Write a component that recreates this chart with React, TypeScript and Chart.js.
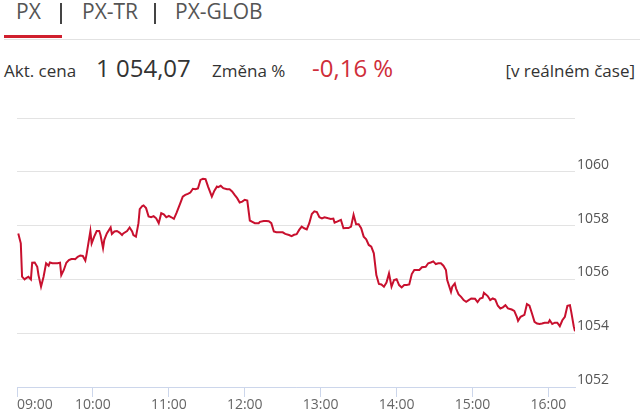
import React, { useEffect, useRef } from 'react';
import { Chart, registerables } from 'chart.js';

Chart.register(...registerables);

const FONT = '"Open Sans", "Noto Sans", sans-serif';

const times: string[] = [
  '09:01','09:03','09:04','09:06','09:07','09:09','09:11','09:12','09:14','09:16','09:17','09:19','09:21','09:23','09:25','09:26','09:28','09:30','09:32','09:34','09:35','09:37','09:39','09:41','09:43','09:45','09:46','09:48','09:50','09:52','09:54','09:55','09:58','09:59',
  '10:01','10:03','10:05','10:06','10:08','10:09','10:11','10:14','10:15','10:17','10:19','10:21','10:23','10:24','10:27','10:29','10:31','10:32','10:34','10:36','10:37','10:39','10:40','10:42','10:44','10:46','10:48','10:50','10:52','10:54','10:56','10:58',
  '11:00','11:02','11:04','11:06','11:09','11:11','11:13','11:15','11:17','11:19','11:21','11:23','11:25','11:27','11:29','11:31','11:34','11:36','11:38','11:39','11:41','11:43','11:46','11:48','11:50','11:52','11:54','11:56','11:58',
  '12:00','12:02','12:04','12:06','12:08','12:11','12:12','12:15','12:17','12:19','12:21','12:23','12:25','12:28','12:30','12:32','12:35','12:37','12:39','12:41','12:43','12:45','12:47','12:49','12:51','12:53','12:55','12:57','12:59',
  '13:01','13:03','13:06','13:08','13:10','13:11','13:13','13:16','13:18','13:20','13:22','13:24','13:26','13:28','13:30','13:32','13:34','13:36','13:38','13:40','13:42','13:44','13:46','13:48','13:50','13:52','13:54','13:56','13:58',
  '14:00','14:02','14:04','14:06','14:08','14:10','14:12','14:14','14:16','14:18','14:20','14:23','14:25','14:27','14:29','14:31','14:33','14:35','14:37','14:39','14:40','14:43','14:44','14:46','14:47','14:49','14:51','14:53','14:55','14:57','14:59',
  '15:02','15:04','15:06','15:08','15:09','15:12','15:14','15:16','15:18','15:20','15:22','15:24','15:26','15:28','15:31','15:33','15:35','15:36','15:38','15:41','15:43','15:45','15:47','15:49','15:51','15:53','15:55','15:57',
  '16:00','16:01','16:03','16:05','16:07','16:09','16:11','16:13','16:15','16:17','16:18','16:20','16:21',
];

const values: number[] = [
  1057.71,1057.34,1056.10,1056.00,1056.04,1056.10,1056.00,1056.62,1056.63,1056.47,1056.16,1055.73,1056.10,1056.60,1056.51,1056.63,1056.60,1056.60,1056.60,1056.62,1056.16,1056.35,1056.62,1056.72,1056.76,1056.76,1056.75,1056.84,1056.89,1056.87,1056.70,1056.94,1057.80,1057.34,
  1057.59,1057.80,1057.80,1057.65,1057.16,1057.47,1057.71,1057.93,1057.69,1057.78,1057.80,1057.74,1057.65,1057.71,1057.80,1057.93,1057.78,1057.65,1057.59,1058.09,1058.61,1058.73,1058.75,1058.65,1058.34,1058.31,1058.35,1058.27,1058.09,1058.46,1058.42,1058.31,
  1058.36,1058.31,1058.25,1058.46,1058.83,1059.08,1059.14,1059.18,1059.23,1059.37,1059.35,1059.38,1059.70,1059.74,1059.73,1059.45,1059.08,1059.30,1059.45,1059.43,1059.48,1059.39,1059.35,1059.35,1059.27,1059.14,1059.02,1058.86,1058.89,
  1058.96,1058.93,1058.19,1058.14,1058.09,1058.09,1058.14,1058.17,1058.17,1058.16,1058.09,1057.78,1057.75,1057.75,1057.75,1057.69,1057.65,1057.61,1057.66,1057.68,1057.84,1057.96,1057.90,1057.86,1058.09,1058.43,1058.53,1058.50,1058.31,
  1058.27,1058.31,1058.27,1058.25,1058.26,1058.11,1058.15,1058.21,1057.90,1057.91,1057.91,1057.96,1058.40,1058.05,1058.05,1057.90,1057.59,1057.49,1057.28,1057.22,1056.97,1056.16,1055.83,1055.81,1055.73,1055.88,1056.22,1055.73,1055.98,
  1056.01,1055.79,1055.70,1055.79,1055.79,1055.81,1056.20,1056.35,1056.35,1056.35,1056.45,1056.47,1056.60,1056.63,1056.67,1056.57,1056.60,1056.60,1056.51,1056.35,1055.98,1055.54,1055.73,1055.85,1055.66,1055.44,1055.35,1055.23,1055.17,1055.23,1055.29,
  1055.28,1055.16,1055.29,1055.32,1055.50,1055.38,1055.23,1055.29,1055.25,1055.02,1054.92,1054.96,1055.04,1054.92,1054.88,1054.83,1054.61,1054.46,1054.61,1054.68,1055.08,1055.02,1054.73,1054.42,1054.36,1054.34,1054.36,1054.39,
  1054.39,1054.48,1054.34,1054.39,1054.39,1054.26,1054.48,1054.61,1055.02,1055.04,1054.80,1054.26,1054.07,
];

const xTickLabels: string[] = ['09:00', '10:00', '11:00', '12:00', '13:00', '14:00', '15:00', '16:00'];
const xRange: string[] = ['09:00', '16:21'];
const yTicks: number[] = [1052, 1054, 1056, 1058, 1060, 1062];
const yHiddenLabels: number[] = [1062];

const tabs: string[] = ['PX', 'PX-TR', 'PX-GLOB'];
const priceLabel = 'Akt. cena';
const priceValue = '1 054,07';
const changeLabel = 'Změna %';
const changeValue = '-0,16 %';
const realtimeLabel = '[v reálném čase]';

const toMin = (s: string) => {
  const [h, m] = s.split(':').map(Number);
  return h * 60 + m;
};
const fmt = (v: number) => {
  const h = Math.floor(v / 60);
  const m = v % 60;
  return `${String(h).padStart(2, '0')}:${String(m).padStart(2, '0')}`;
};

const LINE = '#c8102e';
const AXIS = '#ccd6eb';

function PriceChart() {
  const ref = useRef<HTMLCanvasElement | null>(null);
  useEffect(() => {
    if (!ref.current) return;
    const xMin = toMin(xRange[0]);
    const xMax = toMin(xRange[1]);
    const hourTicks = xTickLabels.map(toMin);
    const chart = new Chart(ref.current, {
      type: 'line',
      data: {
        datasets: [
          {
            data: times.map((t, i) => ({ x: toMin(t), y: values[i] })),
            borderColor: LINE,
            borderWidth: 2,
            pointRadius: 0,
            tension: 0,
            fill: false,
          },
        ],
      },
      options: {
        animation: false,
        responsive: false,
        devicePixelRatio: 1,
        layout: { padding: { left: 17, top: 18, right: 0, bottom: 0 } },
        plugins: { legend: { display: false }, tooltip: { enabled: false } },
        scales: {
          x: {
            type: 'linear',
            min: xMin,
            max: xMax,
            afterBuildTicks: (scale: any) => {
              scale.ticks = [...hourTicks, xMax].map((v) => ({ value: v }));
            },
            afterFit: (scale: any) => {
              scale.height = 29;
            },
            grid: {
              drawOnChartArea: false,
              drawTicks: true,
              tickLength: 10,
              color: (ctx: any) =>
                ctx.tick && hourTicks.includes(ctx.tick.value) ? AXIS : 'rgba(0,0,0,0)',
            },
            border: { display: true, color: AXIS, width: 1 },
            ticks: {
              autoSkip: false,
              maxRotation: 0,
              minRotation: 0,
              align: 'inner',
              padding: 0,
              color: '#666666',
              font: { family: FONT, size: 14 },
              callback: (v: any) => (hourTicks.includes(Number(v)) ? fmt(Number(v)) : ''),
            },
          },
          y: {
            position: 'right',
            min: yTicks[0],
            max: yTicks[yTicks.length - 1],
            afterBuildTicks: (scale: any) => {
              scale.ticks = yTicks.map((v) => ({ value: v }));
            },
            afterFit: (scale: any) => {
              scale.width = 65;
            },
            grid: {
              color: '#e3e3e3',
              lineWidth: 1,
              drawTicks: false,
            },
            border: { display: false },
            ticks: {
              crossAlign: 'near',
              padding: 2,
              labelOffset: -7,
              color: '#555555',
              font: { family: FONT, size: 14 },
              callback: (v: any) => (yHiddenLabels.includes(Number(v)) ? '' : String(v)),
            },
          },
        },
      },
    } as any);
    return () => chart.destroy();
  }, []);
  return <canvas ref={ref} width={640} height={316} style={{ display: 'block', width: 640, height: 316 }} />;
}

export default function App() {
  const abs = (left: number, top: number, extra: React.CSSProperties = {}): React.CSSProperties => ({
    position: 'absolute',
    left,
    top,
    whiteSpace: 'nowrap',
    lineHeight: 1,
    fontFamily: FONT,
    ...extra,
  });
  const tabLefts = [16, 82, 175];
  return (
    <div style={{ position: 'absolute', left: 0, top: 0, width: 640, height: 416, background: '#fff', overflow: 'hidden' }}>
      {tabs.map((t, i) => (
        <span key={t} style={abs(tabLefts[i], 0.9, { fontSize: 21, color: '#555' })}>{t}</span>
      ))}
      <div style={{ position: 'absolute', left: 60, top: 3, width: 2, height: 21, background: '#444' }} />
      <div style={{ position: 'absolute', left: 154, top: 3, width: 2, height: 21, background: '#444' }} />
      <div style={{ position: 'absolute', left: 4, top: 39, width: 636, height: 1, background: '#e2e2e2' }} />
      <div style={{ position: 'absolute', left: 4, top: 35, width: 58, height: 3, background: '#d01f2e' }} />

      <span style={abs(4, 62, { fontSize: 17, color: '#333' })}>{priceLabel}</span>
      <span style={abs(96, 55.7, { fontSize: 24, color: '#333' })}>{priceValue}</span>
      <span style={abs(212, 62, { fontSize: 17, color: '#333' })}>{changeLabel}</span>
      <span style={abs(312, 55.7, { fontSize: 24, color: '#cf2e3a' })}>{changeValue}</span>
      <span style={abs(0, 62, { fontSize: 17, color: '#333', left: 'auto', right: 5 })}>{realtimeLabel}</span>

      <div style={{ position: 'absolute', left: 0, top: 100, width: 640, height: 316 }}>
        <PriceChart />
      </div>
    </div>
  );
}
